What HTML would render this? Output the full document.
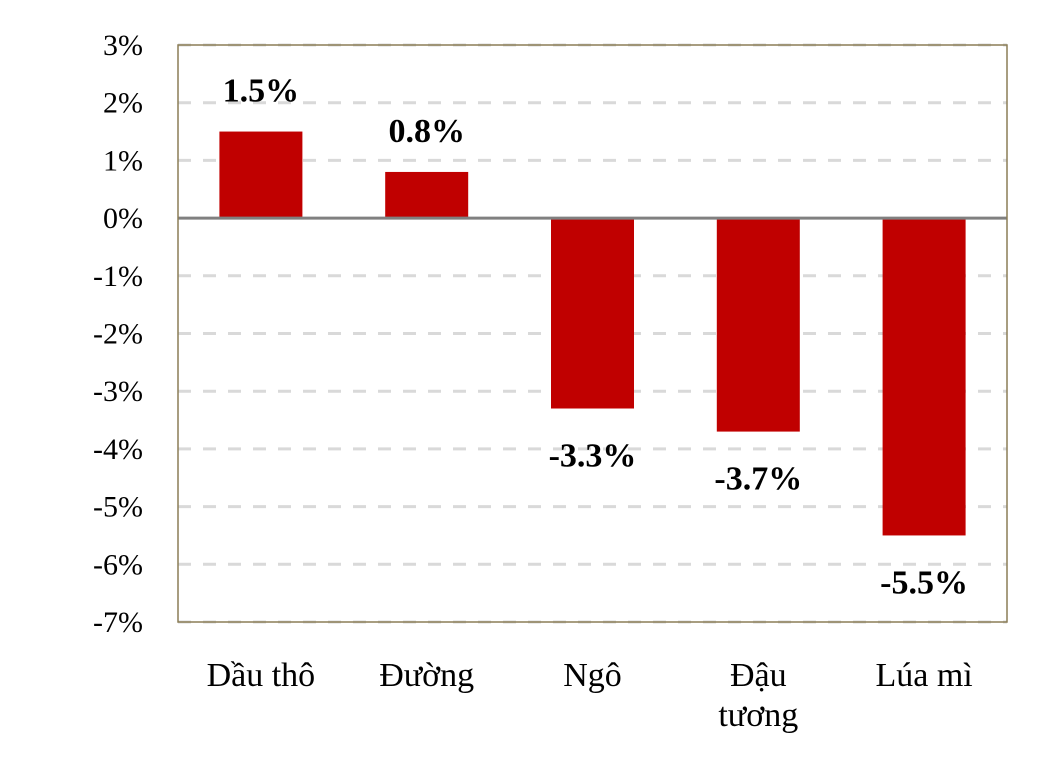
<!DOCTYPE html>
<html><head><meta charset="utf-8"><style>
body{margin:0;background:#fff;}
svg text{font-family:"Liberation Serif",serif;}
</style></head><body>
<svg id="chart" width="1054" height="761" xmlns="http://www.w3.org/2000/svg"></svg>
<script>
const categories=[["Dầu thô"],["Đường"],["Ngô"],["Đậu","tương"],["Lúa mì"]];
const values=[1.5,0.8,-3.3,-3.7,-5.5];
const valueLabels=["1.5%","0.8%","-3.3%","-3.7%","-5.5%"];
const ticks=[3,2,1,0,-1,-2,-3,-4,-5,-6,-7];
const tickLabels=["3%","2%","1%","0%","-1%","-2%","-3%","-4%","-5%","-6%","-7%"];
const NS="http://www.w3.org/2000/svg";
const svg=document.getElementById('chart');
const L=178,R=1007,T=45,B=622,yMax=3,yMin=-7;
const y=v=>T+(yMax-v)/(yMax-yMin)*(B-T);
const bw=(R-L)/categories.length;
const x=i=>L+bw*i+bw/2;
function mk(t,a){const e=document.createElementNS(NS,t);for(const k in a)e.setAttribute(k,a[k]);svg.appendChild(e);return e;}
ticks.forEach((t,i)=>{
  if(t!==0){const g=mk('line',{x1:L,x2:R,y1:y(t),y2:y(t),stroke:'#d9d9d9','stroke-width':3,'stroke-dasharray':'13,12'});
  
  }
  const tx=mk('text',{x:143,y:y(t)+10,'text-anchor':'end','font-size':30,fill:'#000'});
  tx.textContent=tickLabels[i];
  
  
});
values.forEach((v,i)=>{
  const y0=y(0),y1=y(v);
  const r=mk('rect',{x:x(i)-41.5,y:Math.min(y0,y1),width:83,height:Math.abs(y1-y0),fill:'#c00000'});
  
  
  const ly=v>=0?y1-30:y1+58;
  const t=mk('text',{x:x(i),y:ly,'text-anchor':'middle','font-size':34,'font-weight':'bold',fill:'#000'});
  t.textContent=valueLabels[i];
  
  
  categories[i].forEach((line,j)=>{
    const c=mk('text',{x:x(i),y:686+j*40,'text-anchor':'middle','font-size':34,fill:'#000'});
    c.textContent=line;
    
    
  });
});
const z=mk('line',{x1:L,x2:R,y1:y(0),y2:y(0),stroke:'#808080','stroke-width':3});


const b=mk('rect',{x:L,y:T,width:R-L,height:B-T,fill:'none',stroke:'#8b7d56','stroke-width':1.5});


</script>
</body></html>
